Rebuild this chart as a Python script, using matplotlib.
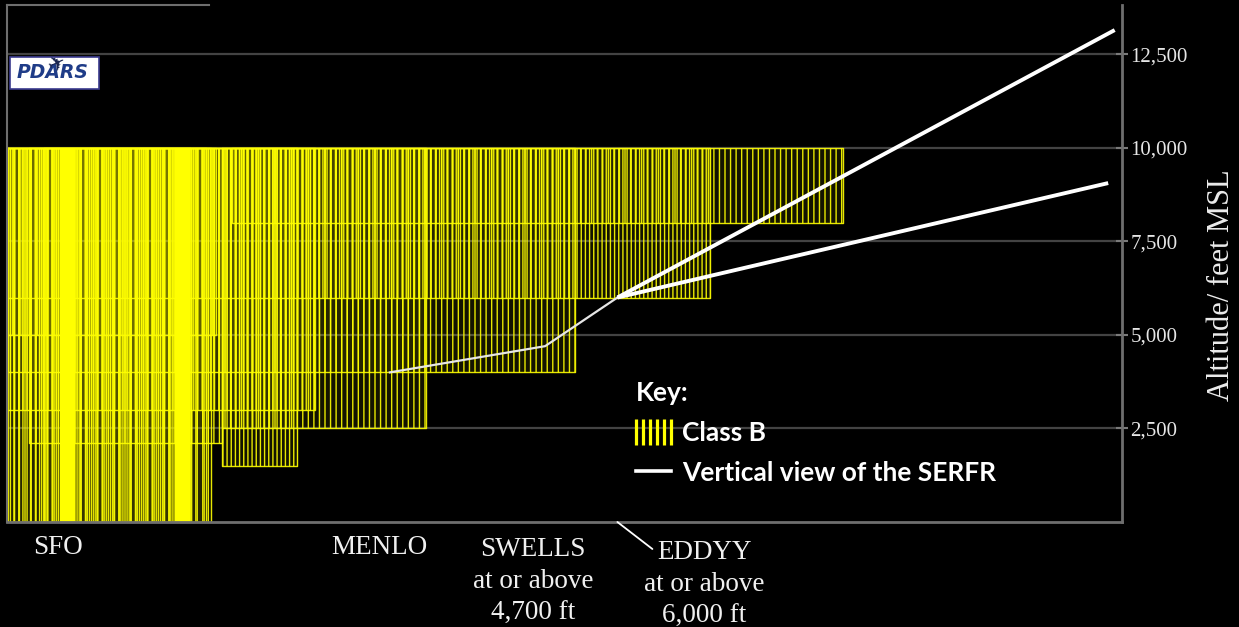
import numpy as np
import matplotlib.pyplot as plt
from matplotlib.lines import Line2D
from matplotlib.patches import Rectangle
from matplotlib.legend_handler import HandlerLine2D

# Class B sectors seen from the side (distance in nm from SFO, altitudes in ft)
sector_start = [-3.3, -3.3, -1.0, -1.9, 10.0, 10.0, -3.3, -3.3, -3.3, -3.3, 10.6]
sector_end = [9.3, 8.0, 9.0, 10.0, 14.6, 22.5, 9.6, 15.7, 31.7, 40.0, 48.2]
sector_floor = [0, 0, 0, 2100, 1500, 2500, 5000, 3000, 4000, 6000, 8000]
class_b_ceiling = 10000

# narrow bands where sector edges line up (look solid)
band_start = [0.0, 7.1]
band_end = [0.9, 8.0]

# SERFR arrival: MENLO -> SWELLS -> EDDYY, then the two upper branches
serfr_x = [20.3, 29.85, 34.3]
serfr_alt = [4000, 4700, 6000]
branch_end_x = [64.9, 64.5]
branch_end_alt = [13150, 9060]

waypoint_names = ['SFO', 'MENLO', 'SWELLS\nat or above\n4,700 ft', 'EDDYY\nat or above\n6,000 ft']
waypoint_x = [0.0, 20.3, 29.85, 34.3]

alt_ticks = [2500, 5000, 7500, 10000, 12500]
alt_labels = ['2,500', '5,000', '7,500', '10,000', '12,500']

key_labels = ['Class B', 'Vertical view of the SERFR']

plt.rcParams['hatch.linewidth'] = 1.0

fig = plt.figure(figsize=(12.39, 6.27), dpi=100, facecolor='black')
ax = fig.add_axes([7 / 1239, 1 - 522 / 627, 1115 / 1239, 517 / 627])
ax.set_facecolor('black')
ax.set_axisbelow(True)

# class B, hatched yellow, overlapping sectors get brighter
hatches = ['|||', '||||', '||', '|||', '||||', '|||', '||', '||||', '|||', '||||', '|||']
for x0, x1, fl, h in zip(sector_start, sector_end, sector_floor, hatches):
    ax.fill_between([x0, x1], fl, class_b_ceiling, facecolor=(1, 1, 0, 0.08),
                    edgecolor=(1, 1, 0, 0.9), hatch=h, linewidth=1.0, zorder=1)
for b0, b1 in zip(band_start, band_end):
    ax.fill_between([b0, b1], 0, class_b_ceiling, color='yellow', linewidth=0, zorder=1)

# SERFR
ax.plot(serfr_x, serfr_alt, color='#e6e6e6', lw=1.6, zorder=3)
for bx, ba in zip(branch_end_x, branch_end_alt):
    ax.plot([serfr_x[-1], bx], [serfr_alt[-1], ba], color='white', lw=2.8,
            solid_capstyle='butt', zorder=3)

ax.set_xlim(-3.26, 65.35)
ax.set_ylim(0, 13820)
ax.set_xticks([])

ax.yaxis.tick_right()
ax.set_yticks(alt_ticks)
ax.set_yticklabels(alt_labels, family='Liberation Serif', fontsize=15)
ax.tick_params(axis='y', colors='#7a7a7a', direction='inout', length=8, width=1.5,
               pad=2, labelcolor='#e6e6e6')
ax.grid(axis='y', color='#555555', lw=1.6, alpha=0.8)

ax.yaxis.set_label_position('right')
ax.set_ylabel('Altitude/ feet MSL', family='Liberation Serif', fontsize=22, color='#ececec')
ax.yaxis.set_label_coords(1.076, 0.458)

for side in ['left', 'right', 'bottom', 'top']:
    ax.spines[side].set_color('#6e6e6e')
ax.spines['right'].set_linewidth(2)
ax.spines['bottom'].set_linewidth(2)
ax.spines['left'].set_linewidth(1.5)
ax.spines['top'].set_linewidth(1.5)
ax.spines['top'].set_bounds(-3.26, 9.2)

# waypoint labels under the axis
offsets = [(-2, -32), (-10, -32), (-12, -15.5), (87, -18)]
valigns = ['baseline', 'baseline', 'top', 'top']
for name, wx, off, va in zip(waypoint_names, waypoint_x, offsets, valigns):
    ax.annotate(name, xy=(wx, 0), xycoords=('data', 'axes fraction'),
                xytext=off, textcoords='offset pixels', ha='center', va=va,
                family='Liberation Serif', fontsize=19.5, color='#f0f0f0',
                linespacing=1.36, annotation_clip=False)
ax.annotate('', xy=(waypoint_x[3], 0), xycoords=('data', 'axes fraction'),
            xytext=(35, -27), textcoords='offset pixels', annotation_clip=False,
            arrowprops=dict(arrowstyle='-', color='white', lw=1.3, shrinkA=0, shrinkB=0))

# key
handles = [Line2D([], [], ls='none', marker='|', markersize=18.7, markeredgewidth=2.3, color='yellow'),
           Line2D([], [], color='white', lw=2.6)]
leg = ax.legend(handles, key_labels, title='Key:', loc='upper left',
                bbox_to_anchor=(636 / 1239, 1 - 381 / 627), bbox_transform=fig.transFigure,
                frameon=False, numpoints=6, handlelength=1.33, handletextpad=0.42,
                labelspacing=0.6, borderpad=0, borderaxespad=0, alignment='left',
                prop={'family': 'Lato', 'weight': 'bold', 'size': 19},
                title_fontproperties={'family': 'Lato', 'weight': 'bold', 'size': 19},
                labelcolor='white',
                handler_map={handles[0]: HandlerLine2D(marker_pad=0),
                             handles[1]: HandlerLine2D(marker_pad=0)})
leg.get_title().set_color('white')

# PDARS logo
fig.add_artist(Rectangle((10 / 1239, 1 - 89 / 627), 89 / 1239, 32 / 627, transform=fig.transFigure,
                         facecolor='white', edgecolor='#3b3b8f', lw=1.2))
fig.text(53 / 1239, 1 - 73 / 627, 'PDARS', ha='center', va='center', fontsize=13.5,
         weight='bold', style='italic', color='#1f3c88', family='DejaVu Sans')
fig.text(57 / 1239, 1 - 64 / 627, '\u2708', ha='center', va='center', fontsize=15,
         rotation=25, color='#1a2550', family='DejaVu Sans')

fig.savefig('out.png', dpi=100, facecolor='black')
